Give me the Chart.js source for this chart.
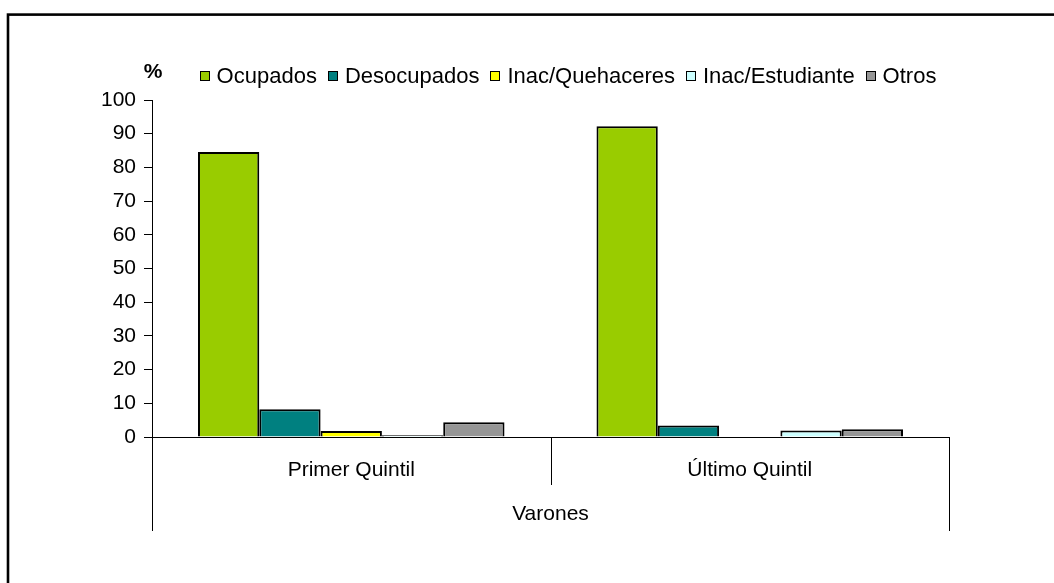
<!DOCTYPE html>
<html>
<head>
<meta charset="utf-8">
<script src="https://cdn.jsdelivr.net/npm/chart.js@4.4.1/dist/chart.umd.min.js"></script>
<style>
  html, body { margin: 0; padding: 0; background: #ffffff; }
  #wrap { width: 1054px; height: 583px; }
</style>
</head>
<body>
<div id="wrap"><canvas id="c" width="1054" height="583"></canvas></div>
<script>
const categories = ["Primer Quintil", "Último Quintil"];
const groupLabel = "Varones";
const unitLabel = "%";
const seriesNames = ["Ocupados", "Desocupados", "Inac/Quehaceres", "Inac/Estudiante", "Otros"];
const ocupados = [84.6, 92.2];
const desocupados = [8.2, 3.4];
const inacQuehaceres = [1.8, 0];
const inacEstudiante = [0.5, 1.9];
const otros = [4.4, 2.3];
const yTicks = [0, 10, 20, 30, 40, 50, 60, 70, 80, 90, 100];

const seriesValues = [ocupados, desocupados, inacQuehaceres, inacEstudiante, otros];
const seriesColors = ["#99CC00", "#008080", "#FFFF00", "#CCFFFF", "#969696"];
const FONT = "'Liberation Sans', Arial, sans-serif";

const frameAndExtras = {
  id: 'frameAndExtras',
  beforeDraw(chart) {
    const ctx = chart.ctx;
    ctx.save();
    ctx.fillStyle = '#ffffff';
    ctx.fillRect(0, 0, chart.width, chart.height);
    ctx.restore();
  },
  afterDraw(chart) {
    const ctx = chart.ctx;
    const xs = chart.scales.x;
    const area = chart.chartArea;
    ctx.save();
    // outer frame (only top and left edges fall inside the picture)
    ctx.strokeStyle = '#000';
    ctx.lineWidth = 2.6;
    ctx.strokeRect(8, 14.6, chart.width + 20, chart.height + 20);
    // category dividers
    ctx.lineWidth = 1;
    ctx.strokeStyle = '#000';
    const n = categories.length;
    const step = n > 1 ? xs.getPixelForValue(1) - xs.getPixelForValue(0) : (area.right - area.left);
    for (let i = 0; i <= n; i++) {
      const x = Math.round(xs.getPixelForValue(0) - step / 2 + i * step) + 0.5;
      const outer = (i === 0 || i === n);
      ctx.beginPath();
      ctx.moveTo(x, area.bottom);
      ctx.lineTo(x, area.bottom + (outer ? 94 : 48));
      ctx.stroke();
    }
    // unit label
    ctx.fillStyle = '#000';
    ctx.font = 'bold 21px ' + FONT;
    ctx.textAlign = 'center';
    ctx.textBaseline = 'middle';
    ctx.fillText(unitLabel, area.left + 1, 72);
    // legend
    ctx.font = '22px ' + FONT;
    const box = 10, gapBoxText = 7, gapItems = 11;
    const ds = chart.data.datasets;
    let total = 0;
    const widths = ds.map(d => ctx.measureText(d.label).width);
    widths.forEach((w, i) => { total += box + gapBoxText + w + (i < widths.length - 1 ? gapItems : 0); });
    let x = 568 - total / 2;
    const y = 76;
    ctx.textAlign = 'left';
    ds.forEach((d, i) => {
      const bx = Math.round(x), by = Math.round(y - box / 2);
      ctx.fillStyle = d.backgroundColor;
      ctx.fillRect(bx, by, box, box);
      ctx.strokeStyle = '#000';
      ctx.lineWidth = 1;
      ctx.strokeRect(bx + 0.5, by + 0.5, box - 1, box - 1);
      ctx.fillStyle = '#000';
      ctx.fillText(d.label, x + box + gapBoxText, y + 1);
      x += box + gapBoxText + widths[i] + gapItems;
    });
    ctx.restore();
  }
};

new Chart(document.getElementById('c'), {
  type: 'bar',
  data: {
    labels: categories,
    datasets: seriesNames.map((name, i) => ({
      label: name,
      data: seriesValues[i],
      backgroundColor: seriesColors[i],
      borderColor: '#000000',
      borderWidth: 2,
      categoryPercentage: 5 / 6.5,
      barPercentage: 1.0
    }))
  },
  options: {
    responsive: false,
    animation: false,
    devicePixelRatio: 1,
    layout: { padding: { left: 0, right: 105, top: 100, bottom: 0 } },
    plugins: {
      legend: { display: false },
      tooltip: { enabled: false },
      title: { display: false }
    },
    scales: {
      x: {
        type: 'category',
        grid: { display: false },
        border: { display: true, color: '#000', width: 1 },
        ticks: {
          padding: 13,
          color: '#000',
          font: { family: FONT, size: 21 },
          maxRotation: 0
        },
        title: {
          display: true,
          text: groupLabel,
          color: '#000',
          font: { family: FONT, size: 21 },
          padding: { top: 0, bottom: 56 }
        },
        afterFit(scale) { scale.height = 146; }
      },
      y: {
        min: 0,
        max: 100,
        afterBuildTicks(scale) { scale.ticks = yTicks.map(v => ({ value: v })); },
        grid: {
          drawOnChartArea: false,
          drawTicks: true,
          tickLength: 8,
          color: '#000'
        },
        border: { display: true, color: '#000', width: 1 },
        ticks: {
          padding: 8,
          color: '#000',
          font: { family: FONT, size: 21 }
        },
        afterFit(scale) { scale.width = 152; }
      }
    }
  },
  plugins: [frameAndExtras]
});
</script>
</body>
</html>
